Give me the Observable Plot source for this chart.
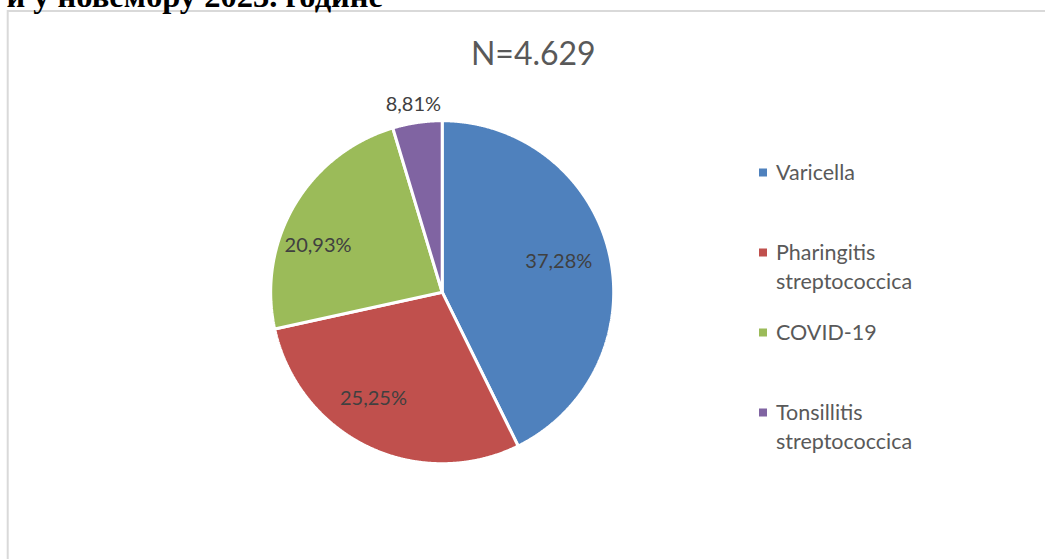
<!DOCTYPE html>
<html><head><meta charset="utf-8">
<script src="https://cdn.jsdelivr.net/npm/d3@7"></script>
<script src="https://cdn.jsdelivr.net/npm/@observablehq/plot@0.6"></script>
<style>
html,body{margin:0;padding:0;background:#fff;}
#wrap{position:relative;width:1045px;height:559px;overflow:hidden;background:#fff;}
#wrap > svg{position:absolute;left:0;top:0;}
</style>
</head><body><div id="wrap"></div>
<script>
// ---- data ----
const categories = ["Varicella", "Pharingitis streptococcica", "COVID-19", "Tonsillitis streptococcica"];
const legendLines = [["Varicella"], ["Pharingitis", "streptococcica"], ["COVID-19"], ["Tonsillitis", "streptococcica"]];
const shares = [42.7, 28.85, 23.8, 4.65];            // slice sizes as drawn (% of circle)
const percentLabels = ["37,28%", "25,25%", "20,93%", "8,81%"];
const chartTitle = "N=4.629";
const headerText = "и у новембру 2023. године";

// ---- style / layout ----
const colors = ["#4f81bd", "#c0504d", "#9bbb59", "#8064a2"];
const labelRadius = [0.703, 0.738, 0.773, 1.108];
const labelNudgeDeg = [-1.6, 7.25, -9.85, -0.35];

const W = 1045, H = 559;
const wrap = document.getElementById("wrap");

// slices via d3.pie (clockwise from 12 o'clock)
const arcs = d3.pie().sort(null).value(d => d)(shares);
const slicePts = arcs.map((a, i) => {
  const pts = [{x: 0, y: 0}];
  const n = Math.max(2, Math.ceil((a.endAngle - a.startAngle) / (Math.PI / 720)));
  for (let k = 0; k <= n; k++) {
    const t = a.startAngle + (a.endAngle - a.startAngle) * k / n;
    pts.push({x: Math.sin(t), y: Math.cos(t)});
  }
  return pts;
});
const labelRows = arcs.map((a, i) => {
  const t = (a.startAngle + a.endAngle) / 2 + labelNudgeDeg[i] * Math.PI / 180;
  return {x: labelRadius[i] * Math.sin(t), y: labelRadius[i] * Math.cos(t), text: percentLabels[i]};
});

const chart = Plot.plot({
  width: W, height: H,
  marginLeft: 270.2, marginRight: 431.8, marginTop: 120.2, marginBottom: 95.8,
  x: {domain: [-1, 1], axis: null},
  y: {domain: [-1, 1], axis: null},
  style: {fontFamily: "Lato", background: "transparent", overflow: "visible"},
  marks: [
    ...slicePts.map((pts, i) => Plot.line(pts, {
      x: "x", y: "y", curve: "linear-closed",
      fill: colors[i], stroke: "#ffffff", strokeWidth: 3, strokeLinejoin: "miter"
    })),
    Plot.text(labelRows, {x: "x", y: "y", text: "text", fill: "#404040", fontSize: 20, fontFamily: "Lato"})
  ]
});
wrap.appendChild(chart);

// overlay: frame, header, title, legend
const svg = d3.select(wrap).append("svg").attr("width", W).attr("height", H)
  .style("font-family", "Lato");
svg.append("path").attr("d", `M7.7,${H} V11 H${W}`).attr("fill", "none")
  .attr("stroke", "#d9d9d9").attr("stroke-width", 2);
svg.append("text").attr("x", 383).attr("y", 7).attr("text-anchor", "end")
  .style("font-family", "'Liberation Serif','Times New Roman',serif").style("font-weight", "bold")
  .style("font-size", "32.5px").attr("fill", "#000").text(headerText);
svg.append("text").attr("x", 533.3).attr("y", 65).attr("text-anchor", "middle")
  .style("font-size", "32px").attr("fill", "#595959").text(chartTitle);

const legendY = d3.scaleLinear().domain([0, categories.length - 1]).range([180, 420]);
categories.forEach((c, i) => {
  const base = legendY(i);
  svg.append("rect").attr("x", 759).attr("y", base - 11.5).attr("width", 8).attr("height", 8).attr("fill", colors[i]);
  const t = svg.append("text").attr("x", 776).attr("y", base).style("font-size", "21.5px").attr("fill", "#595959");
  legendLines[i].forEach((ln, j) => t.append("tspan").attr("x", 776).attr("dy", j === 0 ? 0 : 28.5).text(ln));
});
</script>
</body></html>
